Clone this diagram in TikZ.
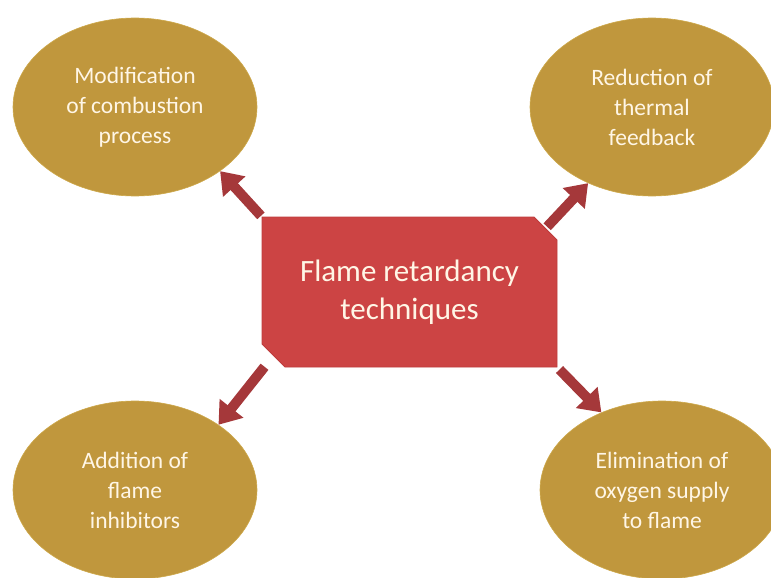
\documentclass[tikz,border=0pt]{standalone}
\usepackage{fontspec}
\setmainfont{Carlito}
\usetikzlibrary{shapes.geometric,shapes.misc,arrows.meta}
\definecolor{gold}{HTML}{C0973D}
\definecolor{goldedge}{HTML}{CDA84A}
\definecolor{boxred}{HTML}{CC4444}
\definecolor{boxedge}{HTML}{BE3C3C}
\definecolor{arrowred}{HTML}{A5383A}
\definecolor{cream}{HTML}{FFF6E6}
\begin{document}
\begin{tikzpicture}[x=1pt,y=-1pt,
  idea/.style={ellipse,fill=gold,draw=goldedge,line width=0.6pt,
    minimum width=244pt,minimum height=178pt,inner sep=0pt,
    text=cream,font=\fontsize{23.5}{30}\selectfont,align=center},
  hub/.style={chamfered rectangle,
    chamfered rectangle corners={north east,south west},
    chamfered rectangle xsep=11.5pt,chamfered rectangle ysep=11.5pt,
    fill=boxred,draw=boxedge,line width=0.8pt,
    minimum width=295pt,minimum height=150pt,inner sep=0pt,
    text=cream,font=\fontsize{31}{38}\selectfont,align=center},
  link/.style={draw=arrowred,line width=10pt,
    -{Triangle[width=29pt,length=21pt]}}]
\useasboundingbox (0,0) rectangle (771,578);
\clip (0,0) rectangle (771,578);
% the four techniques
\node[idea] (modif) at (135,107) {Modification\\of combustion\\process};
\node[idea] (reduct) at (652,107) {Reduction of\\thermal\\feedback};
\node[idea] (addit) at (135,490) {Addition of\\flame\\inhibitors};
\node[idea] (elim) at (662,490) {Elimination of\\oxygen supply\\to flame};
% centre box
\node[hub] (flame) at (409.5,292) {Flame retardancy\\techniques};
% arrows out of the box
\draw[link,shorten <=1pt] (flame.north west) -- (modif.323);
\draw[link,shorten <=2pt] (flame.north east) -- (reduct.230);
\draw[link,shorten <=14pt] (flame.south west) -- (addit.38);
\draw[link,shorten <=3pt] (flame.south east) -- (elim.128);
\end{tikzpicture}
\end{document}
